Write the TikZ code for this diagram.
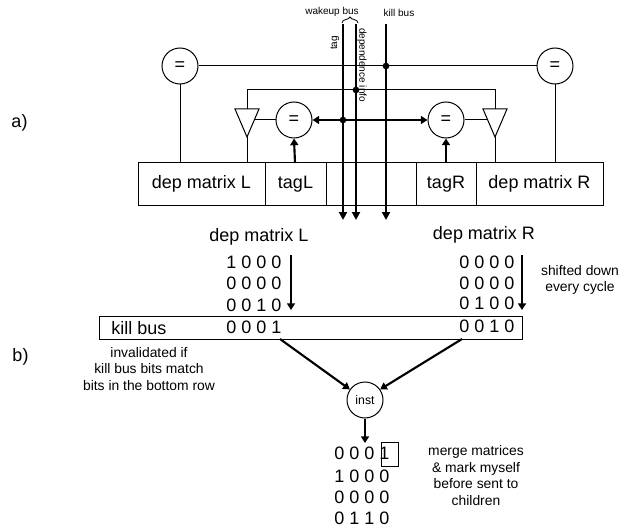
\documentclass[tikz,border=0pt]{standalone}
\usepackage{fontspec}
\setmainfont{Liberation Sans}
\usetikzlibrary{arrows.meta}
\tikzset{
 x=0.75pt,y=-0.75pt,
 big/.style={font=\fontsize{13.5}{15}\selectfont,inner sep=0pt,anchor=center},
 mid/.style={font=\fontsize{10.4}{12.4}\selectfont,inner sep=0pt,align=center},
 small/.style={font=\fontsize{7.5}{9}\selectfont,inner sep=0pt},
 circ/.style={circle,draw,line width=0.75pt,minimum size=27pt,inner sep=0pt,font=\fontsize{13.5}{15}\selectfont},
 thin line/.style={line width=0.75pt},
 bus/.style={line width=2.2pt,-{Triangle[length=6pt,width=6pt]}},
 thickarrow/.style={line width=1.6pt,-{Triangle[length=5pt,width=6pt]}},
 dotn/.style={circle,fill=black,inner sep=0pt,minimum size=5pt},
 tri/.style={draw,line width=0.75pt,line join=miter},
 cell/.style={draw,line width=0.75pt,minimum height=31.5pt,inner sep=0pt,font=\fontsize{13.5}{15}\selectfont},
}
\begin{document}
\begin{tikzpicture}
\useasboundingbox (0,0) rectangle (629,528);
% top box cells
\node[cell,minimum width=95.25pt] (mL) at (201.5,184) {dep matrix L};
\node[cell,minimum width=45.75pt] (tL) at (295.5,184) {tagL};
\node[cell,minimum width=67.5pt] (mid) at (371,184) {};
\node[cell,minimum width=45pt] (tR) at (446,184) {tagR};
\node[cell,minimum width=95.25pt] (mR) at (539.5,184) {dep matrix R};
% circles
\node[circ] (eL) at (180,66) {=};
\node[circ] (eR) at (555,66) {=};
\node[circ] (iL) at (294,120) {=};
\node[circ] (iR) at (446,120) {=};
% triangles
\coordinate (tLa) at (247,137);
\coordinate (tRa) at (495,137);
\coordinate (tLt) at (247,109);
\coordinate (tRt) at (495,109);
\draw[tri] (235,109) -- (259,109) -- (tLa) -- cycle;
\draw[tri] (483,109) -- (507,109) -- (tRa) -- cycle;
\coordinate (tLs) at (254,120);
\coordinate (tRs) at (488,120);
\draw[thin line] (tLs) -- (iL.west);
\draw[thin line] (tRs) -- (iR.east);
\draw[thin line] (tLa) -- (247,163);
\draw[thin line] (tRa) -- (495,163);
\draw[thin line] (tLt) -- (247,90) -- (495,90) -- (tRt);
\draw[thin line] (eL.east) -- (eR.west);
\draw[thin line] (eL.south) -- (180,163);
\draw[thin line] (eR.south) -- (555,163);
\draw[thickarrow] (295,163) -- (iL.south);
\draw[thickarrow] (446,163) -- (iR.south);
\draw[line width=1.6pt,{Triangle[length=5pt,width=6pt]}-{Triangle[length=5pt,width=6pt]}] (iL.east) -- (iR.west);
% buses
\coordinate (tagT) at (343,24);\coordinate (tagB) at (343,220);
\coordinate (depT) at (356,24);\coordinate (depB) at (356,220);
\coordinate (kilT) at (386,24);\coordinate (kilB) at (386,220);
\draw[bus] (tagT) -- (tagB);
\draw[bus] (depT) -- (depB);
\draw[bus] (kilT) -- (kilB);
\node[dotn] (d1) at (386,66) {};
\node[dotn] (d2) at (356,90) {};
\node[dotn] (d3) at (343,120) {};
% brace
\draw[line width=0.6pt] (342,23) .. controls (342,19) and (349,20) .. (350,17) .. controls (351,20) and (358,19) .. (358,23);
\node[small] (wb) at (332,12) {wakeup bus};
\node[small] (kb) at (399,13) {kill bus};
\node[small,rotate=90] (tg) at (335,43) {tag};
\node[small,rotate=-90] (di) at (362,65) {dependence info};
% labels
\node[big] (la) at (19.5,123) {a)};
\node[big] (lb) at (20.5,357) {b)};
\node[big] (hL) at (259,237) {dep matrix L};
\node[big] (hR) at (484,234.5) {dep matrix R};
% matrix L
\node[big] (l1) at (254,262) {1 0 0 0};
\node[big] (l2) at (254,283) {0 0 0 0};
\node[big] (l3) at (254,305) {0 0 1 0};
% matrix R
\node[big] (r1) at (487,262) {0 0 0 0};
\node[big] (r2) at (487,283) {0 0 0 0};
\node[big] (r3) at (487,303.5) {0 1 0 0};
\coordinate (aL1) at (291,255);\coordinate (aL2) at (291,310);
\coordinate (aR1) at (522,255);\coordinate (aR2) at (522,310);
\draw[thickarrow] (aL1) -- (aL2);
\draw[thickarrow] (aR1) -- (aR2);
\node[mid] (sh) at (580,280) {shifted down\\every cycle};
% kill bus
\node[draw,line width=0.75pt,minimum width=317.25pt,minimum height=17.25pt,inner sep=0pt] (kbox) at (310.5,327.5) {};
\node[big] (kt) at (139,328) {kill bus};
\node[big] (k1) at (254,327) {0 0 0 1};
\node[big] (k2) at (487,326.5) {0 0 1 0};
\node[mid] (inv) at (149,369) {invalidated if\\kill bus bits match\\bits in the bottom row};
% inst
\node[circ,font=\fontsize{9.2}{11}\selectfont] (inst) at (365,400) {inst};
\coordinate (kL) at (280,339);\coordinate (kR) at (462,339);
\draw[thickarrow] (kL) -- (inst.145);
\draw[thickarrow] (kR) -- (inst.35);
\coordinate (iE) at (365,443);
\draw[thickarrow] (inst.south) -- (iE);
% result
\node[big] (m1) at (362,453) {0 0 0 1};
\node[big] (m2) at (362,476) {1 0 0 0};
\node[big] (m3) at (362,497) {0 0 0 0};
\node[big] (m4) at (362,518) {0 1 1 0};
\draw[line width=0.75pt] (381,442) rectangle (398,466);
\node[mid] (mg) at (476,475.5) {merge matrices\\\&  mark myself\\before sent to\\children};
\end{tikzpicture}
\end{document}
